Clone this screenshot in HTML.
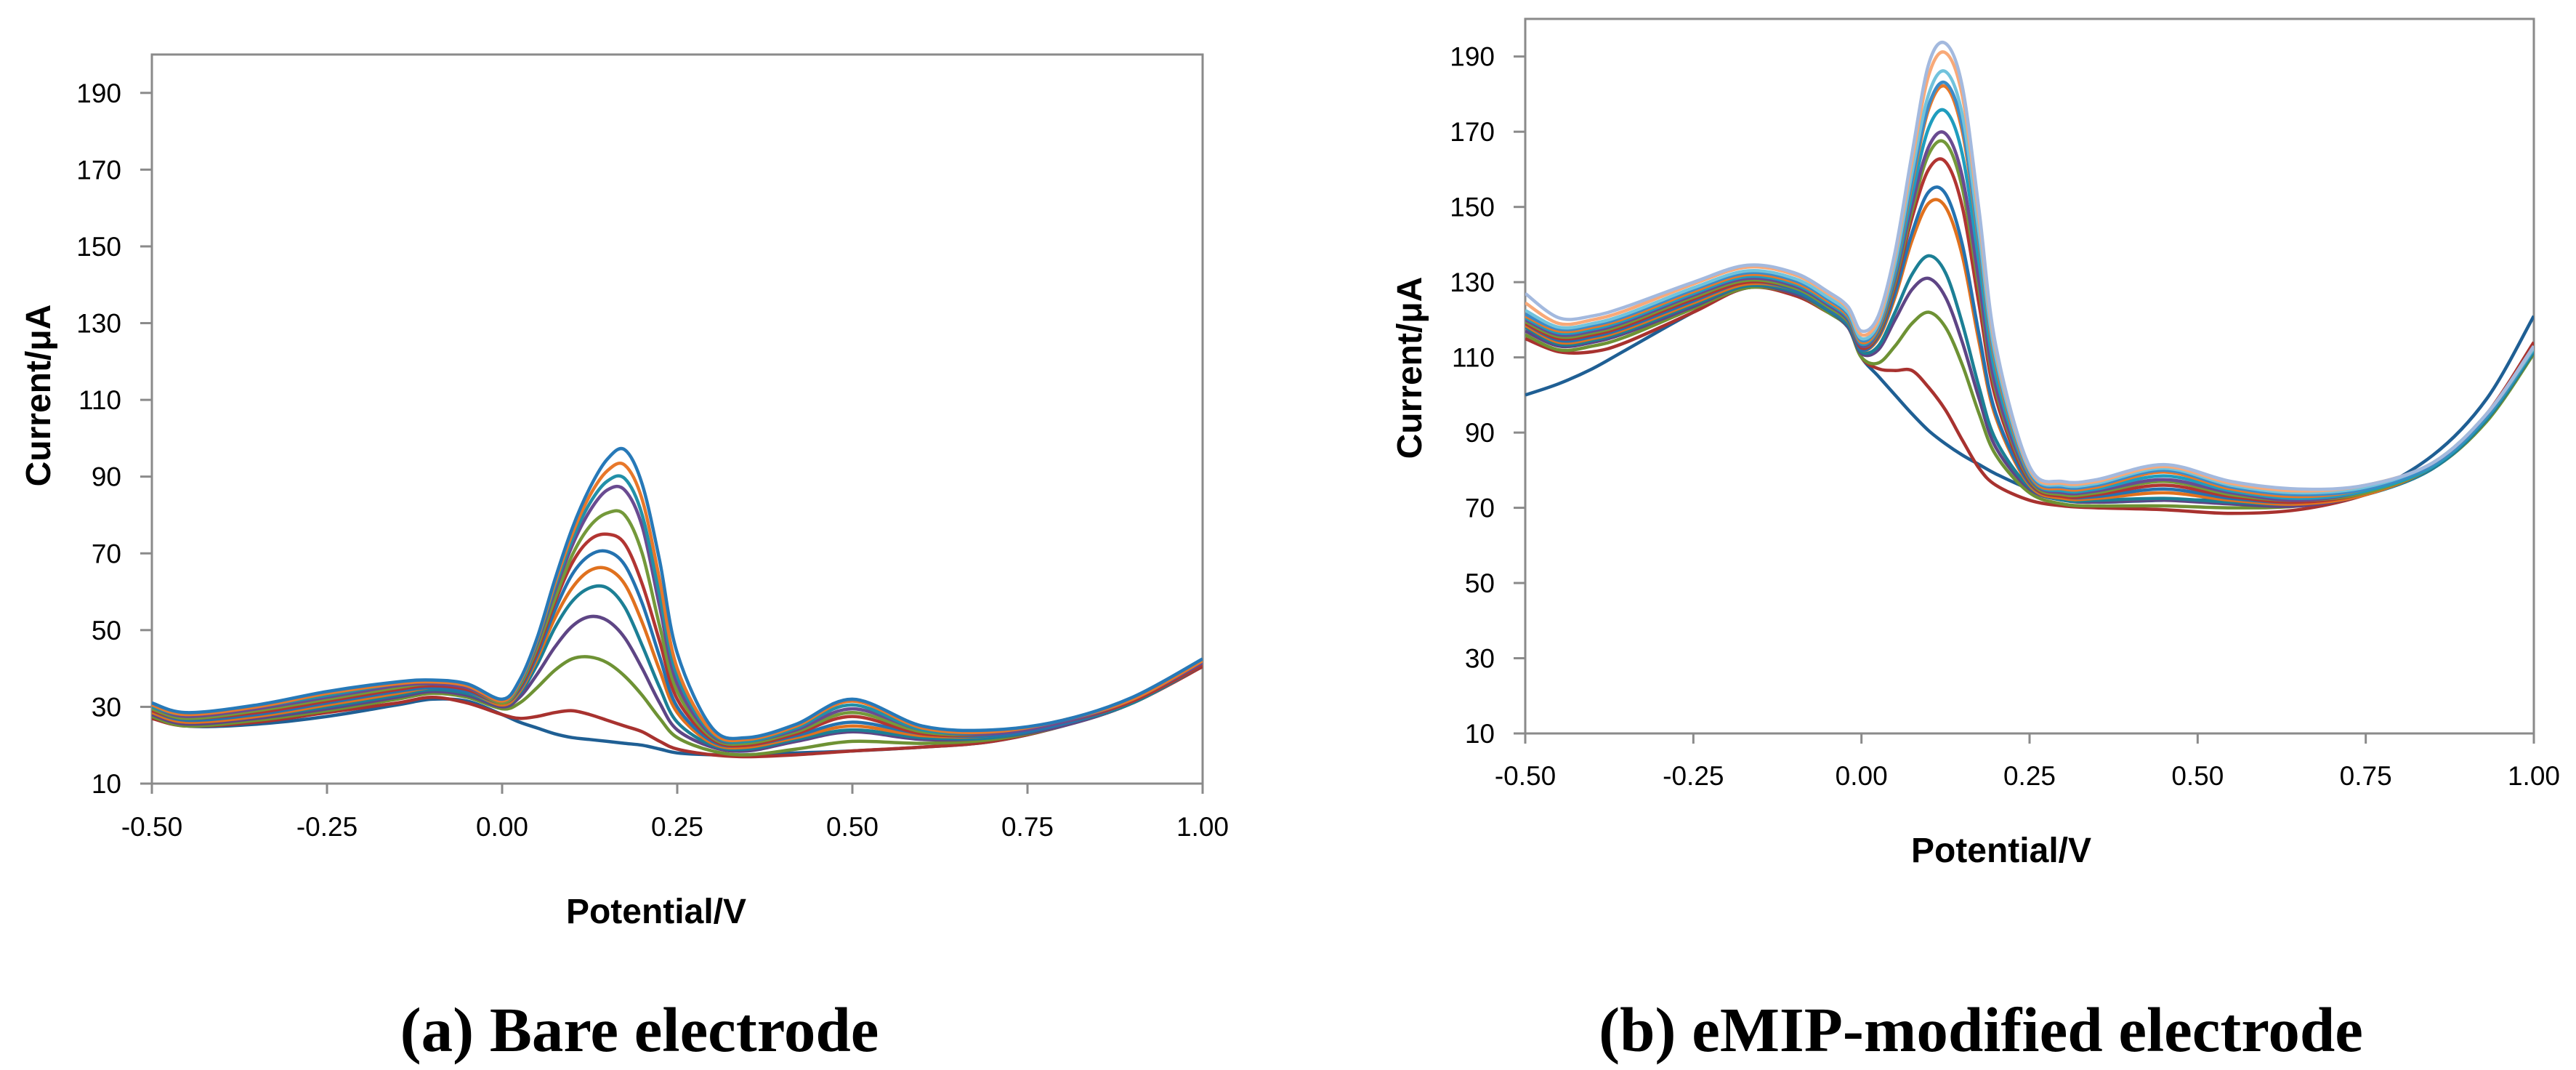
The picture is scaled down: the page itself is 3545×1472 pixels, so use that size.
<!DOCTYPE html>
<html><head><meta charset="utf-8"><style>
html,body{margin:0;padding:0;background:#fff;width:3545px;height:1472px;overflow:hidden}
svg{display:block}
.tick{font-family:"Liberation Sans Narrow","Liberation Sans",sans-serif;font-size:37px;fill:#000}
.axt{font-family:"Liberation Sans",sans-serif;font-weight:bold;font-size:48px;fill:#000}
.cap{font-family:"Liberation Serif",serif;font-weight:bold;font-size:87px;fill:#000}
</style></head><body>
<svg id="svg" width="3545" height="1472" viewBox="0 0 3545 1472">
<g id="pa"></g>
<g id="pb"></g>
<text class="cap" x="880" y="1446" text-anchor="middle">(a) Bare electrode</text>
<text class="cap" x="2726" y="1446" text-anchor="middle">(b) eMIP-modified electrode</text>
</svg>
<script>
const xTicks=[-0.5,-0.25,0,0.25,0.5,0.75,1.0];
const xTickLabels=["-0.50","-0.25","0.00","0.25","0.50","0.75","1.00"];
const yTicks=[10,30,50,70,90,110,130,150,170,190];
const XL=[-0.5,-0.45,-0.35,-0.25,-0.15,-0.1,-0.05,0,0.025,0.05,0.075,0.1,0.125,0.15,0.175,0.2,0.225,0.25,0.3,0.35,0.42,0.5,0.6,0.7,0.8,0.9,1.0];
const L0=[28,25,25.5,27.5,30.5,32,31.5,28,26,24.5,23,22,21.5,21,20.5,20,19,18,17.5,17.5,18,18.5,19.5,21,25,31,41];
const L1=[27,25,26,28.5,31,32.5,31,28,27,27.5,28.5,29,28,26.5,25,23.5,21,19,17.5,17,17.5,18.5,19.5,21,25,31,40.5];
const L2=[27.5,25,26.5,29,32,33.5,32.5,29.5,31,35,39.5,42.5,43,41.5,38,33,27,22,18.5,17.5,19,21,20.5,21.5,25,31,41];
const L3=[28,25.5,27,29.5,32.5,34,33,30,32.5,38.5,45.5,51,53.5,52.5,48,40,31,24,19.5,18.5,21,23.5,21.5,22,25,31,41];
const L4=[28.5,26,27.5,30,33,34.5,33.5,30.5,33.5,41,50.5,57.5,61,61,56,46,35,26,20,19,21.5,24,22,22,25.5,31,41];
const L5=[28.5,26,27.5,30.5,33.5,35,34,30.5,34,42.5,53,61,65.5,66,62,52,39.5,28.5,20.5,19.5,22,25,22.5,22.5,25.5,31.5,41];
const L6=[29,26.5,28,31,34,35,34,31,34.5,43.5,55,64.5,69.5,70.5,67,57,43,30,21,20,22.5,26,23,22.5,25.5,31.5,41];
const L7=[29,27,28.5,31.5,34.5,35.5,34.5,31,35,44.5,57,67.5,73.5,75,72.5,62,47,32,21.5,20,23,27.5,23,23,26,31.5,41];
const L8=[29.5,27,29,32,35,36,35,31,35.5,45.5,58,69.5,77,80.5,80,70,51,34,22,20.5,23.5,28.5,23.5,23,26,32,41.5];
const L9=[30,27.5,29.5,32.5,35.5,36,35,31.5,36,46.5,60,72,81,86.5,86.5,77,56,36,22.5,21,24,29.5,24,23,26,32,41.5];
const L10=[30,28,30,33,36,36.5,35.5,31.5,36,47,61,73.5,83,88.8,89.5,80,59,38,23,21,24.5,30.5,24,23.5,26.5,32,42];
const L11=[30.5,28,30,33.5,36,36.5,35.5,31.5,36.5,47.5,62,75,85,91.5,93,84,63,40,23.5,21.5,25,31.5,24.5,23.5,26.5,32,42];
const L12=[31,28.5,30.5,34,36.5,37,36,32,37,48,63,76.5,87,94.5,97,88,68,44,24.5,22,25.5,32,25,24,26.5,32.5,42.5];
const XR=[-0.5,-0.45,-0.4,-0.35,-0.25,-0.17,-0.1,-0.05,-0.02,0,0.025,0.05,0.075,0.1,0.125,0.15,0.175,0.2,0.25,0.3,0.35,0.45,0.55,0.65,0.75,0.85,0.93,1.0];
const R0=[100,103,107,112,122,128.5,127,122,118,110,105,100,95,90.5,87,84,81.5,79,75,72.5,71.5,72,72,71.5,74,84,99,121];
const R1=[115,111.5,111.5,114,122,128.5,126.5,122,119,110,107,106.5,106.5,102,96,88,80.5,76,72,70.5,70,69.5,68.5,69.5,73.5,81,95,114];
const R2=[116,112,113,115.5,123,128.5,127,122,118,110,108.5,113,119,122,118,108,95,84,74,71,70.5,70.5,70,70.5,73.5,80.5,93,111];
const R3=[117,113,114,116.5,123.5,129,127,122.5,118,111,112,120,128,131,126,114,99,86,75,72,71.5,72,71,70.5,73.5,80.5,93.5,111.5];
const R4=[118,113.5,114.5,117,124,129,127.5,122.5,118.5,111.5,113,122,132,137,132.5,119,102,88,75.5,72,72,72.5,71.5,71,73.5,80.5,93.5,111.5];
const R5=[118.5,114,115,117.5,124.5,129.5,128,123,119,112,115,126,141,151,150,137,114,94,76,72.5,72.5,74,72,71,73.5,81,94,112];
const R6=[119,114.5,115.5,118,125,130,128,123,119,112,115.5,127,143,154,153.5,140,116,95,76.5,73,73,75,72.5,71.5,74,81,94,112];
const R7=[119,115,116,118.5,125.5,130,128.5,123.5,119.5,112.5,116,129,147,160,162,150,124,99,77,73,73.5,76,73,71.5,74,81,94,112];
const R8=[119.5,115.5,116.5,119,126,130.5,128.5,123.5,119.5,113,116.5,130,149,164,167,155,128,101,77.5,73.5,74,77,73.5,72,74,81,94,112];
const R9=[120,116,117,119.5,126.5,131,129,124,120,113,117,131,150.5,166,169.5,158,130,102,78,74,74.5,77.5,74,72,74.5,81,94,112];
const R10=[120.5,116.5,117.5,120,127,131.5,129.5,124.5,120.5,113.5,117.5,132,153,171,175.5,164,135,105,78.5,74.5,75,78.5,74.5,72.5,74.5,81,94,112];
const R11=[121,117,118,120.5,127.5,132,130,125,121,114,118,133.5,156,176,182,170,140,108,79,75,75.5,79.5,75,73,75,81.5,94.5,112.5];
const R12=[121.5,117.5,118.5,121,128,132.5,130.5,125.5,121.5,114.5,118.5,134,157,177,183,171.5,141,109,79.5,75.5,76,80,75.5,73.5,75,81.5,94.5,112.5];
const R13=[122.5,118,119,121.5,128.5,133,131,126,122,115,119,135,159,180,186,174.5,143,110,80,76,76.5,80.5,76,74,75.5,82,95,112.5];
const R14=[124.5,119,120,122.5,129.5,134,132,127,123,116,120,137,162,185,191,179.5,147,112,80.5,76.5,77,81,76.5,74.5,76,82,95,113];
const R15=[127,120.5,121,123.5,130,134.5,132.5,127.5,123.5,117,121,138,164,188,193.5,182,149,113,81,77,77.5,81.5,77,75,76,82,95,113];

const colorsL=['#1F5F94','#A8322F','#6E9234','#5E4585','#1C7F95','#E0711E','#2472B0','#B23532','#74993A','#6A4B91','#2290A8','#E8782A','#2779B8'];
const colorsR=['#1F5F94','#A8322F','#6E9234','#5E4585','#1C7F95','#E0711E','#2472B0','#B23532','#74993A','#6A4B91','#1F9DBE','#E8782A','#3C8BC8','#72C3DC','#F8A978','#A3B9DE'];
const NS='http://www.w3.org/2000/svg';

function mk(tag,attrs,parent){const e=document.createElementNS(NS,tag);for(const k in attrs)e.setAttribute(k,attrs[k]);parent.appendChild(e);return e;}
function smooth(pts){
  let d='M'+pts[0][0].toFixed(1)+','+pts[0][1].toFixed(1);
  for(let i=0;i<pts.length-1;i++){
    const p0=pts[Math.max(0,i-1)],p1=pts[i],p2=pts[i+1],p3=pts[Math.min(pts.length-1,i+2)];
    const c1=[p1[0]+(p2[0]-p0[0])/6,p1[1]+(p2[1]-p0[1])/6];
    const c2=[p2[0]-(p3[0]-p1[0])/6,p2[1]-(p3[1]-p1[1])/6];
    d+='C'+c1[0].toFixed(1)+','+c1[1].toFixed(1)+' '+c2[0].toFixed(1)+','+c2[1].toFixed(1)+' '+p2[0].toFixed(1)+','+p2[1].toFixed(1);
  }
  return d;
}
function panel(g,L,R,T,B,xs,series,colors,xlabY,xtitle,ytitle,tag){
  const sx=v=>L+(v+0.5)/1.5*(R-L);
  const sy=v=>B-(v-10)/190*(B-T);
  const cp=mk('clipPath',{id:'clip'+tag},g);
  mk('rect',{x:L,y:T,width:R-L,height:B-T},cp);
  const frame=mk('rect',{x:L,y:T,width:R-L,height:B-T,fill:'none',stroke:'#8a8a8a','stroke-width':3},g);
  
  
  yTicks.forEach(v=>{
    const t=mk('line',{x1:L-16,x2:L,y1:sy(v),y2:sy(v),stroke:'#8a8a8a','stroke-width':3},g);
    
    
    const tx=mk('text',{x:L-42,y:sy(v)+13,'text-anchor':'end',class:'tick'},g);
    tx.textContent=String(v);
    
    
  });
  xTicks.forEach((v,i)=>{
    const t=mk('line',{x1:sx(v),x2:sx(v),y1:B,y2:B+14,stroke:'#8a8a8a','stroke-width':3},g);
    
    
    const tx=mk('text',{x:sx(v),y:xlabY,'text-anchor':'middle',class:'tick'},g);
    tx.textContent=xTickLabels[i];
    
    
  });
  const cg=mk('g',{'clip-path':'url(#clip'+tag+')'},g);
  series.forEach((s,i)=>{
    const pts=xs.map((x,j)=>[sx(x),sy(s[j])]);
    const p=mk('path',{d:smooth(pts),fill:'none',stroke:colors[i],'stroke-width':4.5,'stroke-linejoin':'round'},cg);
    
    
  });
  const xt=mk('text',{x:xtitle[0],y:xtitle[1],'text-anchor':'middle',class:'axt'},g);
  xt.textContent='Potential/V';
  
  
  const yt=mk('text',{x:ytitle[0],y:ytitle[1],'text-anchor':'middle',class:'axt',transform:'rotate(-90 '+ytitle[0]+' '+ytitle[1]+')'},g);
  yt.textContent='Current/μA';
  
  
}
panel(document.getElementById('pa'),209,1655,75,1078,XL,[L0,L1,L2,L3,L4,L5,L6,L7,L8,L9,L10,L11,L12],colorsL,1150,[903,1270],[69,544],'a');
panel(document.getElementById('pb'),2099,3487,26,1009,XR,[R0,R1,R2,R3,R4,R5,R6,R7,R8,R9,R10,R11,R12,R13,R14,R15],colorsR,1080,[2754,1186],[1956,506],'b');
</script>
</body></html>
